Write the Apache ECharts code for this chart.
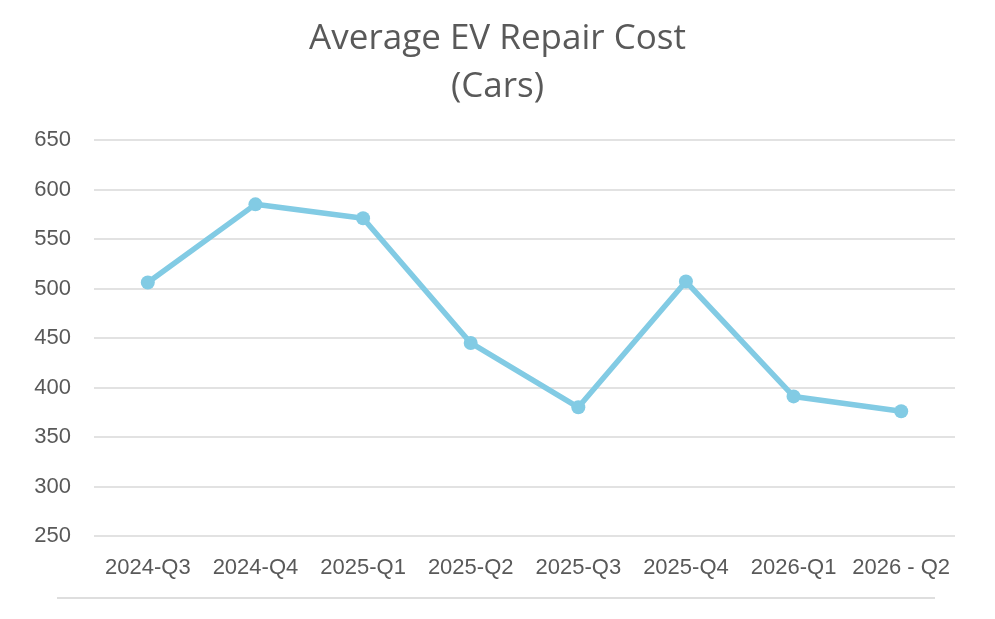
<!DOCTYPE html>
<html>
<head>
<meta charset="utf-8">
<script src="https://cdn.jsdelivr.net/npm/echarts@6/dist/echarts.min.js"></script>
<style>html,body{margin:0;padding:0;background:#fff}#c{width:995px;height:619px}</style>
</head>
<body>
<div id="c"></div>
<script>
const categories = ['2024-Q3','2024-Q4','2025-Q1','2025-Q2','2025-Q3','2025-Q4','2026-Q1','2026 - Q2'];
const repairCost = [506, 585, 571, 445, 380, 507, 391, 376];
const yMin = 250, yMax = 650, yStep = 50;

const chart = echarts.init(document.getElementById('c'), null, {renderer: 'canvas'});
chart.setOption({
  animation: false,
  backgroundColor: '#ffffff',
  title: {
    text: 'Average EV Repair Cost\n(Cars)',
    left: 'center',
    top: 10,
    textStyle: {fontFamily: 'Open Sans', fontWeight: 'normal', fontSize: 35, lineHeight: 48, color: '#595959'}
  },
  grid: {left: 94, right: 40, top: 140, bottom: 83, containLabel: false},
  xAxis: {
    type: 'category',
    data: categories,
    boundaryGap: true,
    axisLine: {show: false},
    axisTick: {show: false},
    axisLabel: {fontFamily: 'Liberation Sans', fontSize: 22, color: '#595959', margin: 21, interval: 0}
  },
  yAxis: {
    type: 'value',
    min: yMin, max: yMax, interval: yStep,
    axisLine: {show: false},
    axisTick: {show: false},
    axisLabel: {fontFamily: 'Liberation Sans', fontSize: 22, color: '#595959', margin: 23},
    splitLine: {lineStyle: {color: '#d9d9d9', width: 1.5}}
  },
  series: [{
    type: 'line',
    data: repairCost,
    lineStyle: {color: '#82cbe4', width: 5.5},
    itemStyle: {color: '#82cbe4'},
    symbol: 'circle',
    symbolSize: 14
  }],
  graphic: [{
    type: 'line',
    shape: {x1: 57, y1: 598, x2: 935, y2: 598},
    style: {stroke: '#dedede', lineWidth: 2}
  }]
});
</script>
</body>
</html>
